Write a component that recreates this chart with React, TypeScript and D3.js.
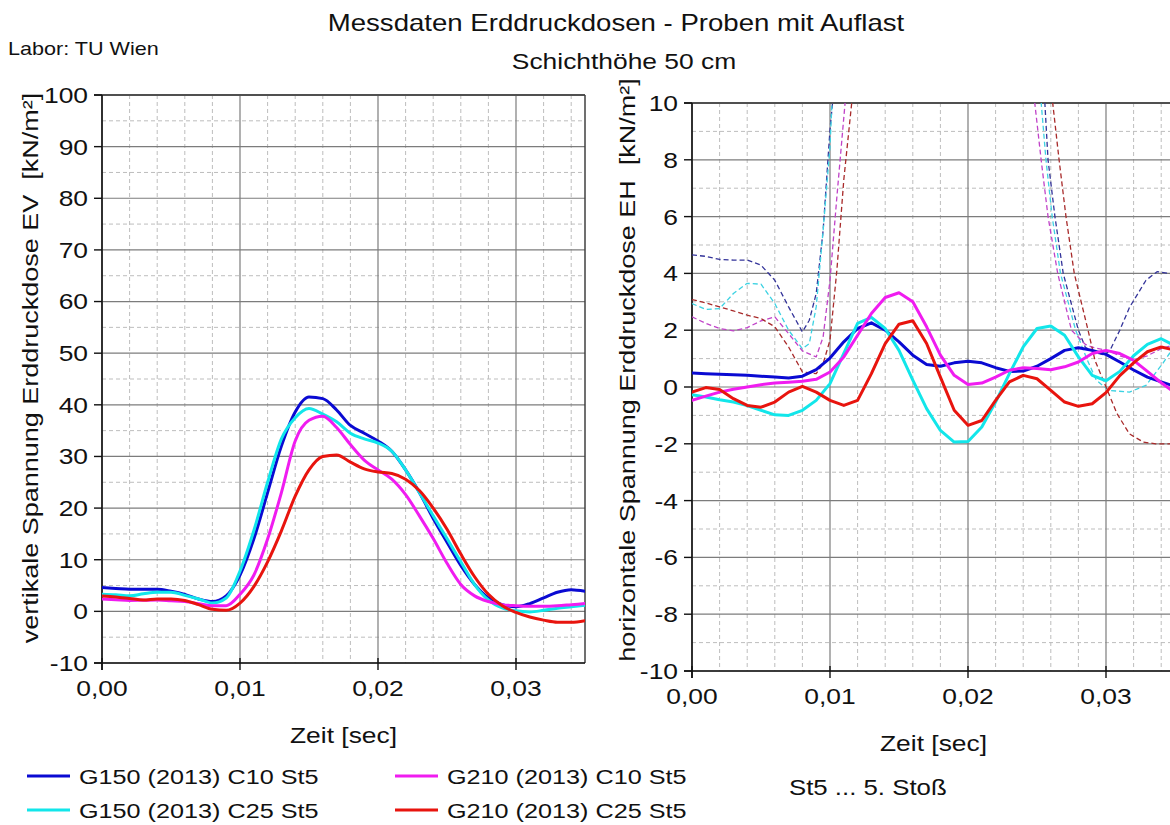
import React from 'react';
import * as d3 from 'd3';

// ---------- data ----------
const TIME = [
  0, 0.001, 0.002, 0.003, 0.004, 0.005, 0.006, 0.007, 0.008, 0.009,
  0.01, 0.011, 0.012, 0.013, 0.014, 0.015, 0.016, 0.017, 0.018, 0.019,
  0.02, 0.021, 0.022, 0.023, 0.024, 0.025, 0.026, 0.027, 0.028, 0.029,
  0.03, 0.031, 0.032, 0.033, 0.034, 0.035,
];

const SERIES_NAMES = [
  'G150 (2013) C10 St5',
  'G150 (2013) C25 St5',
  'G210 (2013) C10 St5',
  'G210 (2013) C25 St5',
];
const SERIES_COLORS = ['#0a0ad2', '#12e6ea', '#f01cf0', '#e8140e'];
const DASH_COLORS = ['#34349a', '#3cd2e2', '#c043c8', '#a82a2a'];

// vertical pressure EV [kN/m²]
const EV_G150_C10 = [4.6, 4.45, 4.3, 4.3, 4.3, 3.9, 3.3, 2.4, 1.9, 3.0, 7.0, 14, 23, 32, 38.6, 41.5, 41.2, 39, 36, 34.5, 33, 31, 27.4, 23, 18, 13.4, 8.9, 5.2, 2.6, 1.3, 0.9, 1.5, 2.6, 3.7, 4.2, 3.9];
const EV_G150_C25 = [3.3, 3.2, 3.0, 3.4, 3.7, 3.7, 3.1, 2.4, 1.6, 2.6, 7.8, 15.6, 25, 33.4, 37.5, 39.3, 38.2, 36.7, 34.5, 33.4, 32.6, 31, 27.4, 23, 18.5, 14.1, 9.6, 5.2, 2.2, 0.7, 0.1, -0.1, 0.2, 0.6, 0.9, 1.2];
const EV_G210_C10 = [2.4, 2.25, 2.1, 2.15, 2.2, 2.05, 1.9, 1.5, 1.1, 1.1, 3.3, 7, 14, 23, 33, 37, 37.8, 35.6, 32.3, 29.3, 27.4, 25.6, 22.6, 18.5, 14.1, 9.3, 5.2, 3.0, 1.9, 1.3, 1.1, 1.0, 1.0, 1.1, 1.3, 1.5];
const EV_G210_C25 = [3.0, 2.8, 2.5, 2.2, 2.4, 2.4, 2.1, 1.3, 0.4, 0.2, 1.6, 4.8, 9.6, 15.6, 22.3, 27.4, 30, 30.3, 28.9, 27.6, 27, 26.7, 25.6, 23.4, 20, 15.9, 11.1, 6.7, 3.3, 1.1, -0.2, -1.1, -1.7, -2.1, -2.1, -1.8];

// horizontal pressure EH [kN/m²], solid
const EH_G150_C10 = [0.49, 0.47, 0.45, 0.43, 0.41, 0.38, 0.35, 0.32, 0.38, 0.61, 1.02, 1.59, 2.06, 2.26, 2.0, 1.59, 1.12, 0.79, 0.73, 0.85, 0.91, 0.85, 0.68, 0.55, 0.56, 0.73, 1.0, 1.29, 1.38, 1.29, 1.15, 0.88, 0.6, 0.35, 0.18, 0.02];
const EH_G150_C25 = [-0.27, -0.35, -0.45, -0.53, -0.65, -0.82, -0.98, -1.0, -0.82, -0.47, 0.12, 1.18, 2.24, 2.45, 2.06, 1.29, 0.24, -0.76, -1.53, -1.94, -1.92, -1.41, -0.53, 0.47, 1.41, 2.06, 2.15, 1.82, 1.06, 0.41, 0.22, 0.55, 1.1, 1.5, 1.7, 1.45];
const EH_G210_C10 = [-0.47, -0.32, -0.18, -0.08, 0, 0.08, 0.14, 0.17, 0.2, 0.27, 0.53, 1.06, 1.82, 2.59, 3.15, 3.32, 3.0, 2.12, 1.12, 0.41, 0.09, 0.14, 0.35, 0.59, 0.68, 0.65, 0.61, 0.71, 0.88, 1.18, 1.29, 1.18, 0.94, 0.55, 0.15, -0.2];
const EH_G210_C25 = [-0.18, -0.02, -0.09, -0.41, -0.65, -0.71, -0.53, -0.18, 0.02, -0.18, -0.47, -0.65, -0.47, 0.47, 1.53, 2.21, 2.33, 1.53, 0.35, -0.82, -1.35, -1.18, -0.47, 0.18, 0.41, 0.29, -0.12, -0.53, -0.68, -0.59, -0.2, 0.4, 0.85, 1.24, 1.41, 1.3];

// horizontal pressure EH, thin dashed traces (two visible pieces each)
const DASH_G150_C10_T1 = [0, 0.001, 0.002, 0.003, 0.004, 0.005, 0.006, 0.007, 0.008, 0.0085, 0.009, 0.0095, 0.01, 0.0103];
const DASH_G150_C10_V1 = [4.65, 4.6, 4.49, 4.47, 4.47, 4.29, 3.76, 2.82, 1.94, 2.35, 3.29, 5.5, 9.06, 10.6];
const DASH_G150_C10_T2 = [0.0255, 0.0258, 0.0263, 0.0269, 0.028, 0.0285, 0.0293, 0.0299, 0.0303, 0.031, 0.0317, 0.0329, 0.0337, 0.0346, 0.035];
const DASH_G150_C10_V2 = [10.6, 8, 6, 4, 2, 1.4, 1.2, 1.12, 1.3, 2.0, 2.8, 3.76, 4.06, 4.0, 3.95];

const DASH_G150_C25_T1 = [0, 0.001, 0.002, 0.003, 0.004, 0.005, 0.006, 0.007, 0.008, 0.0085, 0.009, 0.0095, 0.01, 0.0102];
const DASH_G150_C25_V1 = [2.94, 2.73, 2.76, 3.29, 3.65, 3.62, 2.94, 2.0, 1.35, 1.53, 2.82, 5.5, 8.47, 10.6];
const DASH_G150_C25_T2 = [0.0252, 0.02565, 0.0261, 0.0267, 0.0278, 0.0286, 0.0293, 0.0302, 0.0317, 0.0329, 0.0341, 0.0346, 0.035];
const DASH_G150_C25_V2 = [10.6, 8, 6, 4, 2, 1.0, 0.24, -0.12, -0.18, 0.06, 0.82, 1.18, 1.4];

const DASH_G210_C10_T1 = [0, 0.001, 0.002, 0.003, 0.004, 0.005, 0.006, 0.007, 0.008, 0.009, 0.0095, 0.01, 0.0105, 0.0112];
const DASH_G210_C10_V1 = [2.47, 2.24, 2.06, 1.98, 2.09, 2.33, 2.47, 1.88, 1.27, 1.06, 1.76, 3.76, 6.7, 10.6];
const DASH_G210_C10_T2 = [0.0247, 0.0253, 0.0258, 0.0265, 0.0275, 0.0285, 0.029, 0.03, 0.031, 0.032, 0.033, 0.034, 0.035];
const DASH_G210_C10_V2 = [10.6, 8, 6, 4, 2, 1.5, 1.4, 1.3, 1.1, 0.95, 1.1, 1.35, 1.5];

const DASH_G210_C25_T1 = [0, 0.001, 0.002, 0.003, 0.004, 0.005, 0.006, 0.007, 0.008, 0.009, 0.0095, 0.01, 0.0105, 0.011, 0.0117];
const DASH_G210_C25_V1 = [3.08, 2.96, 2.82, 2.68, 2.53, 2.41, 2.12, 1.41, 0.53, 0.47, 0.82, 1.65, 4.12, 7.3, 10.6];
const DASH_G210_C25_T2 = [0.026, 0.0266, 0.0271, 0.0277, 0.0287, 0.0292, 0.03, 0.0308, 0.0317, 0.0327, 0.0336, 0.0346, 0.035];
const DASH_G210_C25_V2 = [10.6, 8, 6, 4, 2, 0.94, 0, -0.94, -1.65, -1.94, -2.0, -2.0, -1.95];

const X_TICKS = [0, 0.01, 0.02, 0.03];
const X_MINOR = [0.002, 0.004, 0.006, 0.008, 0.012, 0.014, 0.016, 0.018, 0.022, 0.024, 0.026, 0.028, 0.032, 0.034];
const EV_TICKS = [-10, 0, 10, 20, 30, 40, 50, 60, 70, 80, 90, 100];
const EV_MINOR = [-5, 5, 15, 25, 35, 45, 55, 65, 75, 85, 95];
const EH_TICKS = [-10, -8, -6, -4, -2, 0, 2, 4, 6, 8, 10];
const EH_MINOR = [-9, -7, -5, -3, -1, 1, 3, 5, 7, 9];

// ---------- helpers ----------
const FONT = '"Liberation Sans", Arial, Helvetica, sans-serif';
const STRETCH = 1.2; // glyphs in the reference are wider than Arial
const deLocale = d3.formatLocale({ decimal: ',', thousands: '.', grouping: [3], currency: ['', ' €'] });
const fmtX = deLocale.format('.2f');

function Txt(props: {
  x: number;
  y: number;
  size: number;
  anchor?: 'start' | 'middle' | 'end';
  rotate?: number;
  dy?: string;
  sx?: number;
  children: React.ReactNode;
}) {
  const { x, y, size, anchor = 'start', rotate = 0, dy, sx = STRETCH, children } = props;
  return (
    <text
      transform={`translate(${x},${y}) rotate(${rotate}) scale(${sx},1)`}
      textAnchor={anchor}
      dy={dy}
      fontSize={size}
      fontFamily={FONT}
      fill="#111"
      style={{ whiteSpace: 'pre' }}
    >
      {children}
    </text>
  );
}

type Trace = { t: number[]; v: number[]; color: string; width: number; dash?: string };

function Panel(props: {
  id: string;
  left: number;
  top: number;
  width: number;
  height: number;
  yDomain: [number, number];
  yTicks: number[];
  yMinor: number[];
  traces: Trace[];
  yLabel: string;
  yLabelX: number;
  yLabelY: number;
  curve: d3.CurveFactory;
}) {
  const { id, left, top, width, height, yDomain, yTicks, yMinor, traces, yLabel, yLabelX, yLabelY, curve } = props;
  const x = d3.scaleLinear().domain([0, 0.035]).range([left, left + width]);
  const y = d3.scaleLinear().domain(yDomain).range([top + height, top]);
  const bottom = top + height;
  const right = left + width;
  return (
    <g>
      <defs>
        <clipPath id={id}>
          <rect x={left} y={top} width={width} height={height} />
        </clipPath>
      </defs>
      {X_MINOR.map((v) => (
        <line key={'xm' + v} x1={x(v)} x2={x(v)} y1={top} y2={bottom} stroke="#bdbdbd" strokeWidth={1} strokeDasharray="4,3" />
      ))}
      {yMinor.map((v) => (
        <line key={'ym' + v} x1={left} x2={right} y1={y(v)} y2={y(v)} stroke="#bdbdbd" strokeWidth={1} strokeDasharray="4,3" />
      ))}
      {X_TICKS.map((v) => (
        <line key={'xg' + v} x1={x(v)} x2={x(v)} y1={top} y2={bottom} stroke="#7c7c7c" strokeWidth={1.2} />
      ))}
      {yTicks.map((v) => (
        <line key={'yg' + v} x1={left} x2={right} y1={y(v)} y2={y(v)} stroke="#7c7c7c" strokeWidth={1.2} />
      ))}
      <line x1={left - 8} x2={right} y1={top} y2={top} stroke="#505050" strokeWidth={2} />
      <line x1={right} x2={right} y1={top} y2={bottom} stroke="#404040" strokeWidth={1.5} />
      <line x1={left} x2={left} y1={top} y2={bottom + 7} stroke="#111" strokeWidth={1.6} />
      <line x1={left - 8} x2={right} y1={bottom} y2={bottom} stroke="#111" strokeWidth={1.6} />
      {yTicks.map((v) => (
        <line key={'yt' + v} x1={left - 8} x2={left} y1={y(v)} y2={y(v)} stroke="#111" strokeWidth={1.4} />
      ))}
      {X_TICKS.map((v) => (
        <line key={'xt' + v} x1={x(v)} x2={x(v)} y1={bottom - 5} y2={bottom + 7} stroke="#111" strokeWidth={1.4} />
      ))}
      <g clipPath={`url(#${id})`}>
        {traces.map((tr, i) => {
          const pts = tr.t.map((t, k) => [t, tr.v[k]] as [number, number]);
          const path = d3
            .line<[number, number]>()
            .x((d) => x(d[0]))
            .y((d) => y(d[1]))
            .curve(curve)(pts);
          return (
            <path
              key={i}
              d={path || ''}
              fill="none"
              stroke={tr.color}
              strokeWidth={tr.width}
              strokeDasharray={tr.dash}
              strokeLinejoin="round"
              strokeLinecap={tr.dash ? 'butt' : 'round'}
            />
          );
        })}
      </g>
      {yTicks.map((v) => (
        <Txt key={'yl' + v} x={left - 14} y={y(v)} dy="0.36em" anchor="end" size={22}>
          {String(v)}
        </Txt>
      ))}
      {X_TICKS.map((v) => (
        <Txt key={'xl' + v} x={x(v)} y={bottom + 33} anchor="middle" size={22}>
          {fmtX(v)}
        </Txt>
      ))}
      <Txt x={(left + right) / 2} y={bottom + 80} anchor="middle" size={22}>
        Zeit [sec]
      </Txt>
      <Txt x={yLabelX} y={yLabelY} rotate={-90} anchor="middle" dy="0.36em" size={22.5}>
        {yLabel}
      </Txt>
    </g>
  );
}

export default function App() {
  const evSeries = [EV_G150_C10, EV_G150_C25, EV_G210_C10, EV_G210_C25];
  const ehSeries = [EH_G150_C10, EH_G150_C25, EH_G210_C10, EH_G210_C25];
  const dashT = [
    [DASH_G150_C10_T1, DASH_G150_C10_T2],
    [DASH_G150_C25_T1, DASH_G150_C25_T2],
    [DASH_G210_C10_T1, DASH_G210_C10_T2],
    [DASH_G210_C25_T1, DASH_G210_C25_T2],
  ];
  const dashV = [
    [DASH_G150_C10_V1, DASH_G150_C10_V2],
    [DASH_G150_C25_V1, DASH_G150_C25_V2],
    [DASH_G210_C10_V1, DASH_G210_C10_V2],
    [DASH_G210_C25_V1, DASH_G210_C25_V2],
  ];

  const evTraces: Trace[] = evSeries.map((v, i) => ({ t: TIME, v, color: SERIES_COLORS[i], width: 3 }));
  const ehTraces: Trace[] = [];
  dashT.forEach((pair, i) =>
    pair.forEach((t, j) => ehTraces.push({ t, v: dashV[i][j], color: DASH_COLORS[i], width: 1.3, dash: '5,3' }))
  );
  ehSeries.forEach((v, i) => ehTraces.push({ t: TIME, v, color: SERIES_COLORS[i], width: 3 }));

  const legendPos = [
    [27, 776],
    [27, 810],
    [395, 776],
    [395, 810],
  ];

  return (
    <svg width={1170} height={825} style={{ position: 'absolute', left: 0, top: 0, background: '#fff' }}>
      <rect x={0} y={0} width={1170} height={825} fill="#fff" />
      <Txt x={616} y={31} anchor="middle" size={23}>
        Messdaten Erddruckdosen - Proben mit Auflast
      </Txt>
      <Txt x={624} y={69} anchor="middle" size={22}>
        Schichthöhe 50 cm
      </Txt>
      <Txt x={8} y={55} size={18}>
        Labor: TU Wien
      </Txt>

      <Panel
        id="clipEV"
        left={102}
        top={95}
        width={483}
        height={568}
        yDomain={[-10, 100]}
        yTicks={EV_TICKS}
        yMinor={EV_MINOR}
        traces={evTraces}
        yLabel={'vertikale Spannung Erddruckdose EV  [kN/m²]'}
        yLabelX={30}
        yLabelY={368}
        curve={d3.curveMonotoneX}
      />
      <Panel
        id="clipEH"
        left={692}
        top={103}
        width={483}
        height={568}
        yDomain={[-10, 10]}
        yTicks={EH_TICKS}
        yMinor={EH_MINOR}
        traces={ehTraces}
        yLabel={'horizontale Spannung Erddruckdose EH  [kN/m²]'}
        yLabelX={627}
        yLabelY={370}
        curve={d3.curveLinear}
      />

      {SERIES_NAMES.map((name, i) => (
        <g key={name}>
          <line
            x1={legendPos[i][0]}
            x2={legendPos[i][0] + 43}
            y1={legendPos[i][1]}
            y2={legendPos[i][1]}
            stroke={SERIES_COLORS[i]}
            strokeWidth={3}
          />
          <Txt x={legendPos[i][0] + 52} y={legendPos[i][1]} dy="0.36em" size={21}>
            {name}
          </Txt>
        </g>
      ))}
      <Txt x={789} y={795} size={21.5}>
        St5 ... 5. Stoß
      </Txt>
    </svg>
  );
}
